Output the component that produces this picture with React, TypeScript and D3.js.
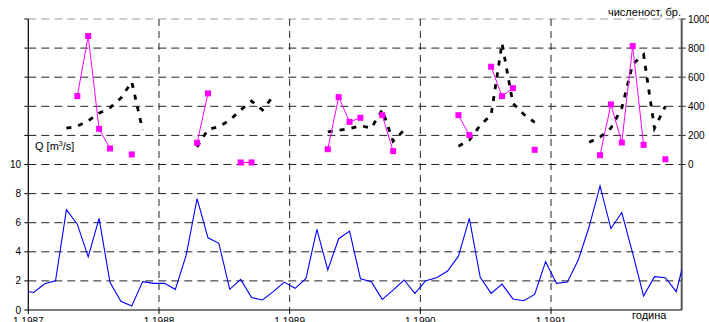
import React from 'react';
import * as d3 from 'd3';

const width = 709;
const height = 322;

// month ticks (one year = 12 months, first month = I.1987)
const yearLabels = ['1.1987', '1.1988', '1.1989', '1.1990', '1.1991'];

// Q [m3/s], monthly, from XII.1986 to I.1992 (edges get clipped)
const flowValues = [
  1.33,
  1.2, 1.8, 2.0, 6.9, 5.9, 3.65, 6.3, 1.9, 0.6, 0.27, 1.95, 1.83,
  1.83, 1.42, 3.77, 7.66, 4.96, 4.58, 1.42, 2.1, 0.85, 0.69, 1.26, 1.92,
  1.49, 2.17, 5.54, 2.75, 4.9, 5.42, 2.15, 1.95, 0.73, 1.37, 2.06, 1.14,
  2.01, 2.22, 2.68, 3.7, 6.3, 2.24, 1.14, 1.78, 0.76, 0.64, 1.07, 3.32,
  1.83, 1.92, 3.43, 5.72, 8.53, 5.6, 6.7, 3.89, 0.96, 2.29, 2.22, 1.26,
  4.2,
];

// численост (magenta), by month I.1987 - XII.1991
const countValues = [
  null, null, null, null, 470, 883, 245, 110, null, 69, null, null,
  null, null, null, 149, 489, null, null, 14, 14, null, null, null,
  null, null, null, 105, 463, 293, 321, null, 339, 92, null, null,
  null, null, null, 339, 202, null, 672, 470, 525, null, 101, null,
  null, null, null, null, 64, 413, 151, 814, 135, null, 36, null,
];

// численост (black dotted), by month
const trendValues = [
  null, null, null, 250, 263, 300, 353, 390, 456, 568, 236, null,
  null, null, null, 120, 240, 260, 305, 374, 436, 375, 470, null,
  null, null, null, 224, 236, 246, 267, 250, 376, 160, 236, null,
  null, null, null, 126, 167, 270, 340, 833, 420, 345, 290, null,
  null, null, null, 153, 188, 250, 388, 690, 755, 250, 400, null,
];

const qTicks = d3.range(0, 21, 2);
const nTicks = d3.range(0, 1001, 200);

const font = 'Arial, "Liberation Sans", sans-serif';

export default function App() {
  const left = 28.3;
  const right = 681.7;
  const top = 19;
  const bottom = 310;

  const x = d3.scaleLinear().domain([0, 60]).range([left, right]);
  const yQ = d3.scaleLinear().domain([0, 20]).range([bottom, top]);
  const yN = d3.scaleLinear().domain([-1000, 1000]).range([bottom, top]);

  const flowLine = d3.line<number>()
    .x((d, i) => x(i - 1 + 0.5))
    .y(d => yQ(d));

  const countLine = d3.line<number | null>()
    .defined(d => d != null)
    .x((d, i) => x(i + 0.5))
    .y(d => yN(d as number));

  const countPoints = countValues
    .map((v, i) => ({ v, i }))
    .filter(d => d.v != null);

  return (
    <svg width={width} height={height} style={{ position: 'absolute', left: 0, top: 0, background: '#fff' }}>
      <defs>
        <clipPath id="plot">
          <rect x={left} y={top} width={right - left} height={bottom - top} />
        </clipPath>
      </defs>

      {/* horizontal grid */}
      {qTicks.filter(t => t > 0).map(t => (
        <line key={t} x1={left} x2={right} y1={yQ(t)} y2={yQ(t)}
          stroke={t === 20 ? '#999' : '#222'} strokeWidth={1} strokeDasharray="8,5" />
      ))}

      {/* vertical year lines */}
      {yearLabels.map((l, i) => i > 0 && (
        <line key={l} x1={x(i * 12)} x2={x(i * 12)} y1={top} y2={bottom}
          stroke="#222" strokeWidth={1} strokeDasharray="7,5" />
      ))}

      {/* left axis */}
      <line x1={left} x2={left} y1={top} y2={bottom} stroke="#000" strokeWidth={1.2} />
      {qTicks.map(t => (
        <g key={t}>
          <line x1={left - 4} x2={left} y1={yQ(t)} y2={yQ(t)} stroke="#000" />
          {t <= 10 && (
            <text x={21} y={yQ(t)} dy="0.35em" textAnchor="end" fontSize={10} fontFamily={font}>{t}</text>
          )}
        </g>
      ))}

      {/* right axis */}
      <line x1={right} x2={right} y1={top} y2={bottom} stroke="#555" strokeWidth={2} />
      {nTicks.map(t => (
        <g key={t}>
          <line x1={right} x2={right + 4} y1={yN(t)} y2={yN(t)} stroke="#333" />
          <text x={688} y={yN(t)} dy="0.35em" fontSize={10} fontFamily={font}>{t}</text>
        </g>
      ))}

      {/* bottom axis */}
      <line x1={left} x2={right} y1={bottom} y2={bottom} stroke="#000" strokeWidth={1.2} />
      {yearLabels.map((l, i) => (
        <g key={l}>
          <line x1={x(i * 12)} x2={x(i * 12)} y1={bottom} y2={bottom + 4} stroke="#000" />
          <text x={x(i * 12)} y={325} textAnchor="middle" fontSize={10} fontFamily={font}>{l}</text>
        </g>
      ))}

      <g clipPath="url(#plot)">
        <path d={countLine(trendValues) || ''} fill="none" stroke="#000" strokeWidth={2.8} strokeDasharray="5,7" />
        <path d={countLine(countValues) || ''} fill="none" stroke="#ff00ff" strokeWidth={1} />
        {countPoints.map(d => (
          <rect key={d.i} x={x(d.i + 0.5) - 3} y={yN(d.v as number) - 3} width={6} height={6} fill="#ff00ff" />
        ))}
        <path d={flowLine(flowValues) || ''} fill="none" stroke="#0000ff" strokeWidth={1.1} />
      </g>

      <text x={35} y={150} fontSize={11} fontFamily={font}>
        Q [m<tspan dy={-4} fontSize={7}>3</tspan><tspan dy={4}>/s]</tspan>
      </text>
      <text x={681} y={16} textAnchor="end" fontSize={11} fontFamily={font}>численост, бр.</text>
      <text x={632} y={318.5} fontSize={11} fontFamily={font}>година</text>
    </svg>
  );
}
